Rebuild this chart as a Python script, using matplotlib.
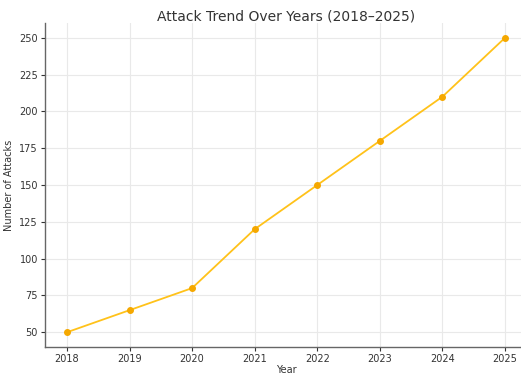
import matplotlib.pyplot as plt

years = [2018, 2019, 2020, 2021, 2022, 2023, 2024, 2025]
attacks = [50, 65, 80, 120, 150, 180, 210, 250]
y_ticks = [50, 75, 100, 125, 150, 175, 200, 225, 250]

fig = plt.figure(figsize=(5.21, 3.77), dpi=100)
ax = fig.add_axes([45 / 521, 30 / 377, 482 / 521, 324 / 377])

ax.plot(years, attacks, color='#FFC21A', linewidth=1.3, marker='o',
        markersize=4, markerfacecolor='#F5A800', markeredgecolor='#F5A800')

ax.set_title('Attack Trend Over Years (2018\u20132025)', fontsize=10, color='#333333', pad=2)
ax.set_xlabel('Year', fontsize=7, color='#333333', labelpad=1)
ax.set_ylabel('Number of Attacks', fontsize=7, color='#333333', labelpad=4)
ax.set_xticks(years)
ax.set_yticks(y_ticks)
ax.tick_params(labelsize=7, colors='#333333', length=3, pad=2)
ax.grid(True, color='#e9e9e9', linewidth=0.8)
ax.set_axisbelow(True)

for s in ['top', 'right']:
    ax.spines[s].set_visible(False)
for s in ['left', 'bottom']:
    ax.spines[s].set_color('#666666')
    ax.spines[s].set_linewidth(1.0)

fig.savefig('out.png', dpi=100)
